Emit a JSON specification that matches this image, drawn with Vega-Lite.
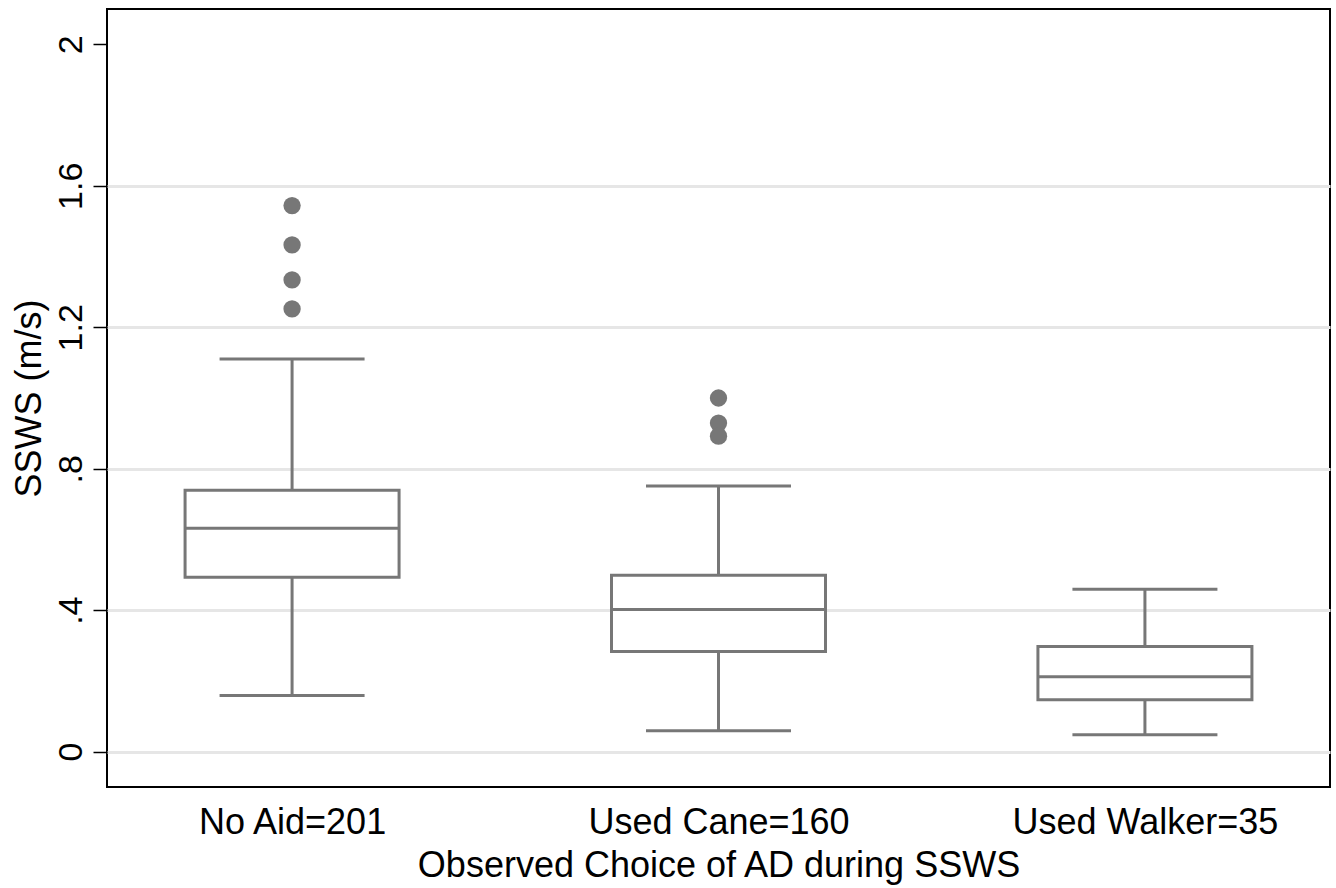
{
  "$schema": "https://vega.github.io/schema/vega-lite/v6.json",
  "width": 1223,
  "height": 778,
  "autosize": {"type": "none"},
  "padding": {"left": 107, "top": 9, "right": 6, "bottom": 101},
  "background": "white",
  "config": {"view": {"stroke": "black", "strokeWidth": 2}, "font": "Liberation Sans"},
  "datasets": {
    "boxes": [
      {"group": "No Aid=201", "lower": 0.159, "q1": 0.493, "median": 0.632, "q3": 0.739, "upper": 1.110},
      {"group": "Used Cane=160", "lower": 0.059, "q1": 0.283, "median": 0.402, "q3": 0.499, "upper": 0.751},
      {"group": "Used Walker=35", "lower": 0.048, "q1": 0.147, "median": 0.212, "q3": 0.297, "upper": 0.459}
    ],
    "outliers": [
      {"group": "No Aid=201", "value": 1.544},
      {"group": "No Aid=201", "value": 1.433},
      {"group": "No Aid=201", "value": 1.334},
      {"group": "No Aid=201", "value": 1.252},
      {"group": "Used Cane=160", "value": 1.0},
      {"group": "Used Cane=160", "value": 0.929},
      {"group": "Used Cane=160", "value": 0.892}
    ]
  },
  "encoding": {
    "x": {
      "field": "group",
      "type": "nominal",
      "sort": ["No Aid=201", "Used Cane=160", "Used Walker=35"],
      "scale": {"type": "point", "padding": 0.434},
      "title": "Observed Choice of AD during SSWS",
      "axis": {
        "labelAngle": 0,
        "labelFontSize": 36,
        "labelBaseline": "alphabetic",
        "labelPadding": 46,
        "labelLimit": 500,
        "labelColor": "black",
        "ticks": false,
        "tickSize": 0,
        "domain": false,
        "grid": false,
        "titleFontSize": 36,
        "titleFontWeight": "normal",
        "titleColor": "black",
        "titleY": 89,
        "titleBaseline": "alphabetic"
      }
    }
  },
  "layer": [
    {
      "data": {"name": "boxes"},
      "mark": {"type": "rule", "color": "#777777", "strokeWidth": 3},
      "encoding": {
        "y": {
          "field": "lower",
          "type": "quantitative",
          "title": "SSWS (m/s)",
          "scale": {"domain": [-0.1, 2.1], "nice": false, "zero": false},
          "axis": {
            "values": [0, 0.4, 0.8, 1.2, 1.6, 2],
            "labelExpr": "datum.value > 0 && datum.value < 1 ? '.' + format(datum.value * 10, 'd') : format(datum.value, '~g')",
            "labelAngle": -90,
            "labelAlign": "center",
            "labelBaseline": "alphabetic",
            "labelFontSize": 34,
            "labelPadding": 12,
            "labelColor": "black",
            "tickSize": 14,
            "tickColor": "black",
            "tickWidth": 1.5,
            "domain": false,
            "grid": true,
            "gridColor": "#e6e6e6",
            "gridWidth": 3,
            "gridOpacity": {"condition": {"test": "datum.value > 1.8", "value": 0}, "value": 1},
            "titleFontSize": 36,
            "titleFontWeight": "normal",
            "titleColor": "black",
            "titleAngle": -90,
            "titleX": -67,
            "titleY": 389,
            "titleAlign": "center",
            "titleBaseline": "alphabetic"
          }
        },
        "y2": {"field": "q1"}
      }
    },
    {
      "data": {"name": "boxes"},
      "mark": {"type": "rule", "color": "#777777", "strokeWidth": 3},
      "encoding": {
        "y": {"field": "q3", "type": "quantitative", "title": "SSWS (m/s)"},
        "y2": {"field": "upper"}
      }
    },
    {
      "data": {"name": "boxes"},
      "mark": {"type": "tick", "color": "#777777", "size": 145, "thickness": 3, "opacity": 1},
      "encoding": {
        "y": {"field": "lower", "type": "quantitative", "title": "SSWS (m/s)"}
      }
    },
    {
      "data": {"name": "boxes"},
      "mark": {"type": "tick", "color": "#777777", "size": 145, "thickness": 3, "opacity": 1},
      "encoding": {
        "y": {"field": "upper", "type": "quantitative", "title": "SSWS (m/s)"}
      }
    },
    {
      "data": {"name": "boxes"},
      "mark": {"type": "bar", "size": 214, "fill": "white", "stroke": "#777777", "strokeWidth": 3},
      "encoding": {
        "y": {"field": "q1", "type": "quantitative", "title": "SSWS (m/s)"},
        "y2": {"field": "q3"}
      }
    },
    {
      "data": {"name": "boxes"},
      "mark": {"type": "tick", "color": "#777777", "size": 214, "thickness": 3, "opacity": 1},
      "encoding": {
        "y": {"field": "median", "type": "quantitative", "title": "SSWS (m/s)"}
      }
    },
    {
      "data": {"name": "outliers"},
      "mark": {"type": "point", "shape": "circle", "filled": true, "size": 300, "color": "#777777", "opacity": 1},
      "encoding": {
        "y": {"field": "value", "type": "quantitative", "title": "SSWS (m/s)"}
      }
    }
  ]
}
